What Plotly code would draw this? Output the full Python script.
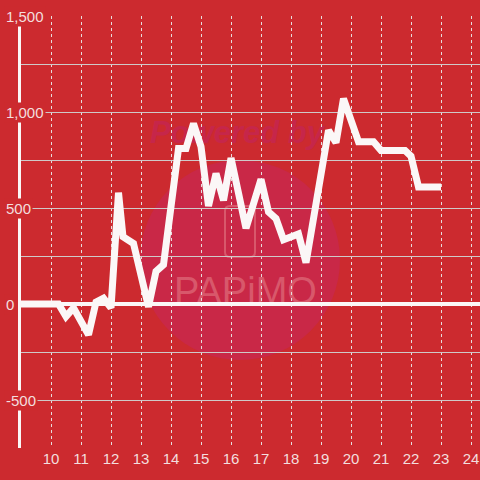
import plotly.graph_objects as go

# ── Colours ─────────────────────────────────────────────────────────────────
BG        = "#cc2a2f"
CIRCLE    = "#c92847"
WATERMARK = "#c6264a"
LOGO      = "#d8586b"
GRID      = "#cfc9c9"
VGRID     = "#e6dddd"
TEXT      = "#f3dede"
WHITE     = "#fbf7f7"

# ── Data ────────────────────────────────────────────────────────────────────
hours = [9.0, 10.25, 10.5, 10.75, 11.25, 11.5, 11.75, 12.0, 12.25, 12.4,
         12.75, 13.25, 13.5, 13.75, 14.25, 14.5, 14.75, 15.0, 15.25, 15.5,
         15.75, 16.0, 16.5, 17.0, 17.25, 17.5, 17.75, 18.25, 18.5, 18.9,
         19.25, 19.5, 19.75, 20.25, 20.75, 21.0, 21.8, 22.0, 22.25, 23.0]
values = [0, 0, -65, -20, -160, 10, 30, -20, 580, 350,
          315, -15, 170, 205, 810, 810, 940, 820, 510, 680,
          540, 760, 395, 650, 480, 445, 335, 365, 215, 580,
          905, 840, 1070, 845, 845, 800, 800, 770, 610, 610]

y_ticks = [1500, 1000, 500, 0, -500]
y_tick_text = ["1,500", "1,000", "500", "0", "-500"]
x_ticks = list(range(10, 25))

# plot area in pixels (for placing the watermark)
L, R, T, B = 21, 480, 16, 448


def px(x, y):
    """pixel position -> paper coordinates"""
    return (x - L) / (R - L), (B - y) / (B - T)


def rounded_rect(x0, y0, x1, y1, r):
    pts = []
    a, b = px(x0 + r, y0)
    path = f"M {a},{b}"
    for (cx, cy) in [(x1 - r, y0), (x1, y0 + r), (x1, y1 - r), (x1 - r, y1),
                     (x0 + r, y1), (x0, y1 - r), (x0, y0 + r), (x0 + r, y0)]:
        pts.append(px(cx, cy))
    c = [px(x1, y0), px(x1, y1), px(x0, y1), px(x0, y0)]
    for i in range(4):
        p1 = pts[2 * i]
        p2 = pts[2 * i + 1]
        path += f" L {p1[0]},{p1[1]} Q {c[i][0]},{c[i][1]} {p2[0]},{p2[1]}"
    return path + " Z"


fig = go.Figure()
fig.add_trace(go.Scatter(
    x=hours, y=values, mode="lines",
    line=dict(color=WHITE, width=7),
    hoverinfo="skip", showlegend=False,
))

# ── Watermark (below grid) ─────────────────────────────────────────────────
cx0, cy0 = px(140, 360)
cx1, cy1 = px(340, 160)
shapes = [
    dict(type="circle", xref="paper", yref="paper", layer="below",
         x0=cx0, y0=cy0, x1=cx1, y1=cy1, fillcolor=CIRCLE, line_width=0),
    dict(type="path", xref="paper", yref="paper", layer="below",
         path=rounded_rect(225, 206, 255, 257, 5),
         line=dict(color=LOGO, width=2), fillcolor="rgba(0,0,0,0)"),
]
for text, (x0, y0, x1, y1), size, col, font in [
    ("Powered by", (144, 112, 350, 146), 31, WATERMARK,
     dict(weight="bold", style="italic")),
    ("PAPiMO", (168, 266, 310, 308), 38, LOGO, dict()),
]:
    a0, b0 = px(x0, y1)
    a1, b1 = px(x1, y0)
    shapes.append(dict(
        type="rect", xref="paper", yref="paper", layer="below",
        x0=a0, y0=b0, x1=a1, y1=b1, line_width=0,
        fillcolor="rgba(0,0,0,0)",
        label=dict(text=text, textposition="middle left",
                   font=dict(family="Liberation Sans", size=size, color=col,
                             **font)),
    ))

# ── y tick labels drawn over the axis line ─────────────────────────────────
annotations = [
    dict(x=0, y=v, xref="paper", yref="y", text=t, showarrow=False,
         xanchor="left", xshift=-17, bgcolor=BG, borderpad=1,
         font=dict(family="Liberation Sans", size=15, color=TEXT))
    for v, t in zip(y_ticks, y_tick_text)
]

fig.update_layout(
    width=480, height=480,
    margin=dict(l=L, r=480 - R, t=T, b=480 - B),
    paper_bgcolor=BG, plot_bgcolor=BG,
    shapes=shapes, annotations=annotations,
    font=dict(family="Liberation Sans", size=15, color=TEXT),
    xaxis=dict(
        range=[9, 9 + (R - L) / 30.0], tickvals=x_ticks,
        showgrid=True, gridcolor=VGRID, gridwidth=1, griddash="3px,3px",
        showline=False, zeroline=False, ticks="",
        tickfont=dict(size=15, color=TEXT),
    ),
    yaxis=dict(
        range=[-750, 1500], dtick=250, tick0=0,
        showticklabels=False, ticks="",
        showgrid=True, gridcolor=GRID, gridwidth=1,
        showline=True, linecolor=WHITE, linewidth=3,
        zeroline=True, zerolinecolor=WHITE, zerolinewidth=4,
    ),
)

fig.write_html("out.html", config={"displayModeBar": False},
               post_script="document.body.style.margin='0';")
